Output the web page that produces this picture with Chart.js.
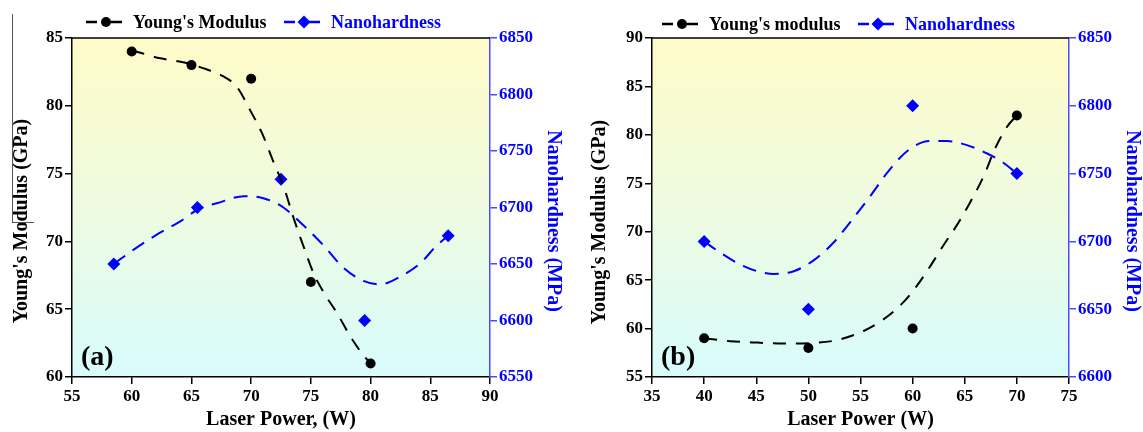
<!DOCTYPE html>
<html>
<head>
<meta charset="utf-8">
<script src="https://cdn.jsdelivr.net/npm/chart.js"></script>
<style>
  html, body { margin: 0; padding: 0; background: #fff; }
  #wrap { position: relative; width: 1143px; height: 432px; }
  canvas { position: absolute; top: 0; }
  #chartA { left: 0; }
  #chartB { left: 571px; }
</style>
</head>
<body>
<div id="wrap">
  <canvas id="chartA" width="571" height="432"></canvas>
  <canvas id="chartB" width="572" height="432"></canvas>
</div>
<script>
// ---- panel (a) ----
const powerA = [60, 65, 70, 75, 80];
const modulusA = [84, 83, 82, 67, 61];
const hardPowerA = [58.5, 65.5, 72.5, 79.5, 86.5];
const hardnessA = [6650, 6700, 6725, 6600, 6675];
// dashed trend curves
const modFitXA = [60, 62.4, 64.4, 65.9, 67.6, 68.8, 69.9, 70.9, 71.9, 72.7, 73.6, 74.4, 75.2, 76.1, 77.2, 78.3, 79.4, 80];
const modFitYA = [84.1, 83.5, 83.2, 82.8, 82.2, 81.4, 79.7, 78.0, 75.8, 74.1, 71.6, 69.6, 67.7, 66.2, 64.7, 63.0, 61.6, 61.0];
const hardFitXA = [58.5, 60.2, 62.1, 64.1, 65.5, 67.2, 69.4, 71.1, 72.7, 74.4, 76.1, 77.7, 79.4, 80.8, 82.5, 84.2, 85.5, 86.5];
const hardFitYA = [6650, 6663, 6676, 6688, 6698, 6704, 6710, 6708, 6700, 6684, 6666, 6647, 6635, 6632, 6639, 6651, 6666, 6675];

// ---- panel (b) ----
const powerB = [40, 50, 60, 70];
const modulusB = [59, 58, 60, 82];
const hardnessB = [6700, 6650, 6800, 6750];
const modFitXB = [40, 42.5, 45.1, 47.6, 50.2, 52.7, 55.3, 57.2, 59.1, 60.4, 61.7, 62.9, 64.2, 65.5, 66.8, 68.0, 69.1, 70];
const modFitYB = [59.0, 58.7, 58.55, 58.45, 58.5, 58.8, 59.75, 60.95, 62.7, 64.4, 66.45, 68.5, 70.6, 73.0, 75.7, 78.8, 80.9, 82.0];
const hardFitXB = [40, 41.3, 43.2, 45.1, 46.7, 48.6, 50.5, 52.4, 54.0, 55.9, 57.8, 59.7, 61.7, 63.3, 65.2, 67.1, 68.7, 70];
const hardFitYB = [6700, 6693, 6684, 6678, 6676, 6678, 6686, 6699, 6714, 6733, 6753, 6768, 6774, 6774, 6771, 6765, 6758, 6750];

const serif = "'Liberation Serif', 'Times New Roman', serif";
const BLUE = '#0000ff';

function pts(xs, ys) {
  return xs.map((x, i) => ({ x: x, y: ys[i] }));
}

// gradient backdrop, top frame line, panel letter, legend, side titles
const panelDecor = {
  id: 'panelDecor',
  beforeDraw(chart, args, o) {
    const { ctx, chartArea: a } = chart;
    const g = ctx.createLinearGradient(0, a.top, 0, a.bottom);
    g.addColorStop(0, '#fffbc8');
    g.addColorStop(0.5, '#eefbe0');
    g.addColorStop(1, '#d8fcfc');
    ctx.save();
    ctx.fillStyle = g;
    ctx.fillRect(a.left, a.top, a.right - a.left, a.bottom - a.top);
    ctx.restore();
  },
  afterDraw(chart, args, o) {
    const { ctx, chartArea: a } = chart;
    ctx.save();
    ctx.strokeStyle = '#000';
    ctx.lineWidth = 1.5;
    ctx.beginPath();
    ctx.moveTo(a.left, a.top);
    ctx.lineTo(a.right, a.top);
    ctx.stroke();

    ctx.fillStyle = '#000';
    ctx.font = 'bold 28px ' + serif;
    ctx.textBaseline = 'alphabetic';
    ctx.fillText(o.letter, a.left + 9, a.bottom - 12);

    // legend
    ctx.font = 'bold 18px ' + serif;
    ctx.textBaseline = 'middle';
    o.legend.forEach(it => {
      ctx.strokeStyle = it.color;
      ctx.fillStyle = it.color;
      ctx.lineWidth = 2.5;
      ctx.beginPath();
      ctx.moveTo(it.x, o.legendY);
      ctx.lineTo(it.x + 11, o.legendY);
      ctx.moveTo(it.x + 25, o.legendY);
      ctx.lineTo(it.x + 36, o.legendY);
      ctx.stroke();
      const cx = it.x + 20;
      ctx.beginPath();
      if (it.shape === 'circle') {
        ctx.arc(cx, o.legendY, 5, 0, Math.PI * 2);
      } else {
        ctx.moveTo(cx, o.legendY - 6.5);
        ctx.lineTo(cx + 6.5, o.legendY);
        ctx.lineTo(cx, o.legendY + 6.5);
        ctx.lineTo(cx - 6.5, o.legendY);
        ctx.closePath();
      }
      ctx.fill();
      ctx.fillText(it.text, it.x + 47, o.legendY + 1);
    });

    // rotated axis titles
    ctx.font = 'bold 20px ' + serif;
    ctx.textAlign = 'center';
    ctx.textBaseline = 'alphabetic';
    o.sideTitles.forEach(t => {
      ctx.save();
      ctx.translate(t.x, t.y);
      ctx.rotate(t.rot);
      ctx.fillStyle = t.color;
      ctx.fillText(t.text, 0, 0);
      ctx.restore();
    });

    if (o.scratch) {
      ctx.strokeStyle = '#555';
      ctx.lineWidth = 1;
      ctx.beginPath();
      ctx.moveTo(12.5, 14);
      ctx.lineTo(12.5, 223);
      ctx.moveTo(12.5, 222.5);
      ctx.lineTo(34, 222.5);
      ctx.stroke();
    }
    ctx.restore();
  }
};

function makeChart(id, d) {
  const tickFont = { family: serif, size: 17, weight: 'bold' };
  const titleFont = { family: serif, size: 20, weight: 'bold' };
  const plain = v => String(v);
  return new Chart(document.getElementById(id), {
    type: 'line',
    data: {
      datasets: [
        {
          data: pts(d.modFitX, d.modFitY), yAxisID: 'y',
          borderColor: '#000', borderWidth: 2, borderDash: [13, 10],
          pointRadius: 0, cubicInterpolationMode: 'monotone', fill: false
        },
        {
          data: pts(d.powerM, d.modulus), yAxisID: 'y', showLine: false,
          pointStyle: 'circle', pointRadius: 5, pointBackgroundColor: '#000', pointBorderWidth: 0
        },
        {
          data: pts(d.hardFitX, d.hardFitY), yAxisID: 'y1',
          borderColor: BLUE, borderWidth: 2, borderDash: [14, 9],
          pointRadius: 0, cubicInterpolationMode: 'monotone', fill: false
        },
        {
          data: pts(d.powerH, d.hardness), yAxisID: 'y1', showLine: false,
          pointStyle: 'rectRot', pointRadius: 6.5, pointBackgroundColor: BLUE, pointBorderWidth: 0
        }
      ]
    },
    options: {
      responsive: false,
      animation: false,
      layout: { padding: { top: 38, left: 0, right: 0, bottom: 0 } },
      plugins: {
        legend: { display: false },
        tooltip: { enabled: false },
        panelDecor: d.decor
      },
      scales: {
        x: {
          type: 'linear', position: 'bottom', min: d.xMin, max: d.xMax,
          ticks: { stepSize: 5, color: '#000', font: tickFont, padding: 2, callback: plain },
          grid: { drawOnChartArea: false, color: '#000', tickLength: 7, lineWidth: 1.5 },
          border: { color: '#000', width: 1.5 },
          title: { display: true, text: d.xTitle, color: '#000', font: titleFont, padding: { top: 2, bottom: 0 } },
          afterFit: s => { s.height = 55; }
        },
        y: {
          position: 'left', min: d.yMin, max: d.yMax,
          ticks: { stepSize: 5, color: '#000', font: tickFont, padding: 2, callback: plain },
          grid: { drawOnChartArea: false, color: '#000', tickLength: 7, lineWidth: 1.5 },
          border: { color: '#000', width: 1.5 },
          afterFit: s => { s.width = d.leftW; }
        },
        y1: {
          position: 'right', min: d.y1Min, max: d.y1Max,
          ticks: { stepSize: 50, color: BLUE, font: tickFont, padding: 2, callback: plain },
          grid: { drawOnChartArea: false, color: '#4b4bff', tickLength: 7, lineWidth: 1.5 },
          border: { color: '#4b4bff', width: 1.5 },
          afterFit: s => { s.width = d.rightW; }
        }
      }
    },
    plugins: [panelDecor]
  });
}

makeChart('chartA', {
  modFitX: modFitXA, modFitY: modFitYA, powerM: powerA, modulus: modulusA,
  hardFitX: hardFitXA, hardFitY: hardFitYA, powerH: hardPowerA, hardness: hardnessA,
  xMin: 55, xMax: 90, yMin: 60, yMax: 85, y1Min: 6550, y1Max: 6850,
  xTitle: 'Laser Power, (W)', leftW: 72, rightW: 81,
  decor: {
    letter: '(a)', scratch: true, legendY: 22,
    legend: [
      { x: 86, text: "Young's Modulus", color: '#000', shape: 'circle' },
      { x: 284, text: 'Nanohardness', color: BLUE, shape: 'diamond' }
    ],
    sideTitles: [
      { text: "Young's Modulus (GPa)", x: 27, y: 221, rot: -Math.PI / 2, color: '#000' },
      { text: 'Nanohardness (MPa)', x: 548, y: 221, rot: Math.PI / 2, color: BLUE }
    ]
  }
});

makeChart('chartB', {
  modFitX: modFitXB, modFitY: modFitYB, powerM: powerB, modulus: modulusB,
  hardFitX: hardFitXB, hardFitY: hardFitYB, powerH: powerB, hardness: hardnessB,
  xMin: 35, xMax: 75, yMin: 55, yMax: 90, y1Min: 6600, y1Max: 6850,
  xTitle: 'Laser Power (W)', leftW: 81, rightW: 74,
  decor: {
    letter: '(b)', scratch: false, legendY: 24,
    legend: [
      { x: 91, text: "Young's modulus", color: '#000', shape: 'circle' },
      { x: 287, text: 'Nanohardness', color: BLUE, shape: 'diamond' }
    ],
    sideTitles: [
      { text: "Young's Modulus (GPa)", x: 34, y: 222, rot: -Math.PI / 2, color: '#000' },
      { text: 'Nanohardness (MPa)', x: 556, y: 221, rot: Math.PI / 2, color: BLUE }
    ]
  }
});
</script>
</body>
</html>
